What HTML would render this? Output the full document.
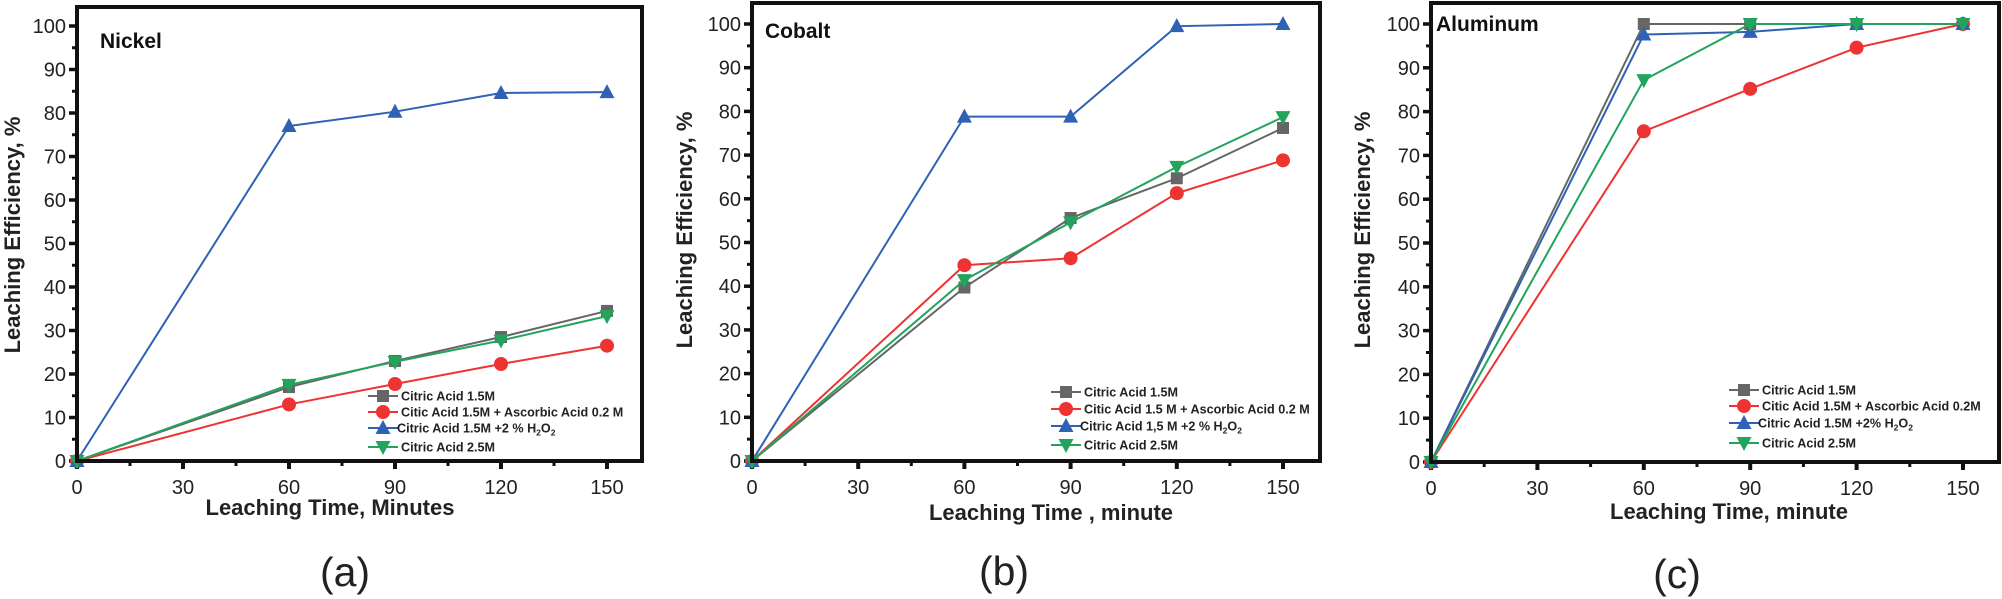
<!DOCTYPE html>
<html><head><meta charset="utf-8">
<style>
html,body{margin:0;padding:0;background:#fff;}
svg{display:block;font-family:"Liberation Sans",Arial,sans-serif;}
</style></head>
<body>
<svg id="fig" width="2002" height="599" viewBox="0 0 2002 599" xmlns="http://www.w3.org/2000/svg"></svg>
<script>
const xTicks=[0,30,60,90,120,150];
const yTicks=[0,10,20,30,40,50,60,70,80,90,100];
const times=[0,60,90,120,150];
const niGray=[0,17,23,28.5,34.5];
const niRed=[0,13,17.7,22.3,26.5];
const niBlue=[0,77,80.3,84.6,84.8];
const niGreen=[0,17.5,22.8,27.7,33.3];
const coGray=[0,39.7,55.6,64.7,76.2];
const coRed=[0,44.8,46.4,61.3,68.8];
const coBlue=[0,78.8,78.8,99.5,100];
const coGreen=[0,41.4,54.6,67.3,78.7];
const alGray=[0,100,100,100,100];
const alRed=[0,75.5,85.2,94.6,100];
const alBlue=[0,97.6,98.2,100,100];
const alGreen=[0,87.2,100,100,100];
const legA=["Citric Acid 1.5M","Citic Acid 1.5M +  Ascorbic Acid 0.2 M","Citric Acid 1.5M +2 % H|2|O|2","Citric Acid 2.5M"];
const legB=["Citric Acid 1.5M","Citic Acid 1.5 M +  Ascorbic Acid 0.2 M","Citric Acid 1,5 M +2 % H|2|O|2","Citric Acid 2.5M"];
const legC=["Citric Acid 1.5M","Citic Acid 1.5M + Ascorbic Acid 0.2M","Citric Acid 1.5M +2% H|2|O|2","Citric Acid 2.5M"];

const NS="http://www.w3.org/2000/svg";
const svg=document.getElementById('fig');
const COLORS=["#666666","#ee3333","#2f62b4","#22a45c"];
const SHAPES=["square","circle","up","down"];
const SNAMES=["citric-1-5m","citric-ascorbic","citric-h2o2","citric-2-5m"];
function el(t,a,p){const e=document.createElementNS(NS,t);for(const k in a)e.setAttribute(k,a[k]);(p||svg).appendChild(e);return e;}
function marker(g,shape,x,y,c){
  let m;
  if(shape==="square")m=el('rect',{x:x-6,y:y-6,width:12,height:12,fill:c},g);
  else if(shape==="circle")m=el('circle',{cx:x,cy:y,r:7,fill:c},g);
  else if(shape==="up")m=el('polygon',{points:`${x},${y-8} ${x-7.5},${y+6} ${x+7.5},${y+6}`,fill:c},g);
  else m=el('polygon',{points:`${x},${y+8} ${x-7.5},${y-6} ${x+7.5},${y-6}`,fill:c},g);
  return m;
}
function panel(cfg){
  const g=el('g',{});
  
  
  const X=v=>cfg.x0+(cfg.x150-cfg.x0)*v/150;
  const Y=v=>cfg.y0+(cfg.y100-cfg.y0)*v/100;
  for(let v=0;v<=160;v+=15){
    const maj=v%30===0;
    const t=el('line',{x1:X(v),x2:X(v),y1:cfg.y0,y2:cfg.y0+(maj?8:5),stroke:"#111","stroke-width":maj?4:3},g);
    
    
  }
  xTicks.forEach(v=>{
    const t=el('text',{x:X(v),y:cfg.y0+33,"text-anchor":"middle","font-size":20,fill:"#222"},g);
    t.textContent=v;
    
    
  });
  for(let v=0;v<=104;v+=5){
    const maj=v%10===0;
    const t=el('line',{x1:cfg.x0-(maj?8:5),x2:cfg.x0,y1:Y(v),y2:Y(v),stroke:"#111","stroke-width":maj?3.5:3},g);
    
    
  }
  yTicks.forEach(v=>{
    const t=el('text',{x:cfg.x0-11,y:Y(v)+7,"text-anchor":"end","font-size":20,fill:"#222"},g);
    t.textContent=v;
    
    
  });
  cfg.series.forEach((s,i)=>{
    const sg=el('g',{},g);
    
    
    const pts=times.map((t,j)=>X(t)+","+Y(s[j])).join(" ");
    const pl=el('polyline',{points:pts,fill:"none",stroke:COLORS[i],"stroke-width":2},sg);
    
    
    times.forEach((t,j)=>{
      const m=marker(sg,SHAPES[i],X(t),Y(s[j]),COLORS[i]);
      
      
    });
  });
  const f=el('rect',{x:cfg.x0,y:cfg.top,width:cfg.right-cfg.x0,height:cfg.y0-cfg.top,fill:"none",stroke:"#111","stroke-width":4},g);
  
  
  const lg=el('g',{},g);
  
  
  cfg.legend.forEach((txt,i)=>{
    const ry=cfg.legY[i];
    const eg=el('g',{},lg);
    
    
    el('line',{x1:cfg.legX,x2:cfg.legX+30,y1:ry,y2:ry,stroke:COLORS[i],"stroke-width":2},eg);
    marker(eg,SHAPES[i],cfg.legX+15,ry,COLORS[i]);
    const t=el('text',{x:cfg.legX+(i===2?29:33),y:ry+4.5,"font-size":12.6,"font-weight":"bold",fill:"#222"},eg);
    const parts=txt.split("|");
    parts.forEach((p,k)=>{
      const ts=el('tspan',{},t);
      if(k%2===1){ts.setAttribute('font-size',8.5);ts.setAttribute('dy',3);}
      else if(k>0){ts.setAttribute('dy',-3);}
      ts.textContent=p;
    });
  });
  const ti=el('text',{x:cfg.titleX,y:cfg.titleY,"font-size":21,"font-weight":"bold",fill:"#111"},g);
  ti.textContent=cfg.title;
  
  
  const yt=el('text',{x:0,y:0,"font-size":22,"font-weight":"bold",fill:"#222","text-anchor":"middle",transform:`translate(${cfg.ytX},${cfg.ytY}) rotate(-90)`},g);
  yt.textContent="Leaching Efficiency, %";
  
  
  const xt=el('text',{x:cfg.xtX,y:cfg.xtY,"font-size":22,"font-weight":"bold",fill:"#222","text-anchor":"middle"},g);
  xt.textContent=cfg.xtitle;
  
  
  const pl=el('text',{x:cfg.plX,y:cfg.plY,"font-size":41,fill:"#222","text-anchor":"middle"},g);
  pl.textContent=cfg.plabel;
  
  
}
panel({id:"nickel",x0:77,x150:607,right:642,top:7,y0:461,y100:26,
  series:[niGray,niRed,niBlue,niGreen],legend:legA,legX:368,legY:[396,412,428,447],
  title:"Nickel",titleX:100,titleY:48,ytX:20,ytY:235,xtitle:"Leaching Time, Minutes",xtX:330,xtY:515,plabel:"(a)",plX:345,plY:586});
panel({id:"cobalt",x0:752,x150:1283,right:1320,top:3,y0:461,y100:24,
  series:[coGray,coRed,coBlue,coGreen],legend:legB,legX:1051,legY:[392,409,426,445],
  title:"Cobalt",titleX:765,titleY:38,ytX:692,ytY:230,xtitle:"Leaching Time , minute",xtX:1051,xtY:520,plabel:"(b)",plX:1004,plY:585});
panel({id:"aluminum",x0:1431,x150:1963,right:1999,top:3,y0:462,y100:24,
  series:[alGray,alRed,alBlue,alGreen],legend:legC,legX:1729,legY:[390,406,423,443],
  title:"Aluminum",titleX:1436,titleY:31,ytX:1370,ytY:230,xtitle:"Leaching Time,  minute",xtX:1729,xtY:519,plabel:"(c)",plX:1677,plY:588});
</script>
</body></html>
